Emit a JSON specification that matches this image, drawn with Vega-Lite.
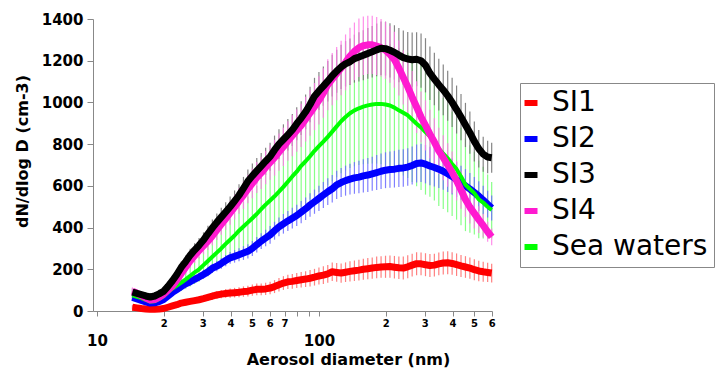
{
  "$schema": "https://vega.github.io/schema/vega-lite/v6.json",
  "autosize": {"type": "none"},
  "width": 399,
  "height": 292,
  "padding": {"left": 93, "top": 19, "right": 224, "bottom": 58},
  "background": "#ffffff",
  "config": {
    "view": {"stroke": null},
    "axisY": {"labelFont": "DejaVu Sans", "labelFontWeight": "bold", "labelFontSize": 15, "labelColor": "#000000", "labelPadding": 4, "format": "d", "tickSize": 6, "tickColor": "#888888", "domainColor": "#888888", "grid": false, "tickCount": 7, "titleFont": "DejaVu Sans", "titleFontSize": 16, "titleFontWeight": "bold", "titleColor": "#000000", "titleX": -66, "titleY": 132, "titleBaseline": "alphabetic", "titleAlign": "center", "titleAngle": -90}
  },
  "data": {"values": [
    {"d":14.45,"SI1":18,"SI1e":10,"SI2":65,"SI2e":12,"SI3":90,"SI3e":18,"SI4":95,"SI4e":18,"SW":75,"SWe":20},
    {"d":15.14,"SI1":15,"SI1e":10,"SI2":58,"SI2e":12,"SI3":84,"SI3e":18,"SI4":85,"SI4e":18,"SW":68,"SWe":20},
    {"d":15.85,"SI1":12,"SI1e":10,"SI2":51,"SI2e":12,"SI3":78,"SI3e":18,"SI4":74,"SI4e":18,"SW":62,"SWe":20},
    {"d":16.6,"SI1":10,"SI1e":10,"SI2":44,"SI2e":12,"SI3":72,"SI3e":18,"SI4":62,"SI4e":18,"SW":53,"SWe":20},
    {"d":17.38,"SI1":8,"SI1e":10,"SI2":38,"SI2e":12,"SI3":67,"SI3e":18,"SI4":53,"SI4e":18,"SW":45,"SWe":20},
    {"d":18.2,"SI1":8,"SI1e":10,"SI2":39,"SI2e":12,"SI3":72,"SI3e":19,"SI4":55,"SI4e":19,"SW":47,"SWe":20},
    {"d":19.05,"SI1":9,"SI1e":10,"SI2":45,"SI2e":12,"SI3":82,"SI3e":20,"SI4":65,"SI4e":20,"SW":58,"SWe":20},
    {"d":19.95,"SI1":12,"SI1e":10,"SI2":55,"SI2e":12,"SI3":94,"SI3e":21,"SI4":80,"SI4e":21,"SW":71,"SWe":20},
    {"d":20.89,"SI1":18,"SI1e":12,"SI2":72,"SI2e":12,"SI3":118,"SI3e":22,"SI4":100,"SI4e":22,"SW":90,"SWe":25},
    {"d":21.88,"SI1":24,"SI1e":12,"SI2":89,"SI2e":12,"SI3":145,"SI3e":24,"SI4":120,"SI4e":24,"SW":108,"SWe":30},
    {"d":22.91,"SI1":30,"SI1e":13,"SI2":103,"SI2e":12,"SI3":175,"SI3e":25,"SI4":148,"SI4e":25,"SW":122,"SWe":35},
    {"d":23.99,"SI1":38,"SI1e":13,"SI2":117,"SI2e":14,"SI3":210,"SI3e":27,"SI4":180,"SI4e":28,"SW":136,"SWe":40},
    {"d":25.12,"SI1":42,"SI1e":14,"SI2":130,"SI2e":15,"SI3":237,"SI3e":29,"SI4":210,"SI4e":30,"SW":152,"SWe":45},
    {"d":26.3,"SI1":46,"SI1e":14,"SI2":140,"SI2e":16,"SI3":267,"SI3e":31,"SI4":240,"SI4e":33,"SW":168,"SWe":50},
    {"d":27.54,"SI1":50,"SI1e":15,"SI2":152,"SI2e":17,"SI3":292,"SI3e":33,"SI4":265,"SI4e":35,"SW":185,"SWe":55},
    {"d":28.84,"SI1":54,"SI1e":15,"SI2":163,"SI2e":18,"SI3":315,"SI3e":35,"SI4":290,"SI4e":38,"SW":200,"SWe":60},
    {"d":30.2,"SI1":59,"SI1e":16,"SI2":175,"SI2e":20,"SI3":340,"SI3e":37,"SI4":312,"SI4e":40,"SW":220,"SWe":65},
    {"d":31.62,"SI1":65,"SI1e":17,"SI2":188,"SI2e":21,"SI3":370,"SI3e":39,"SI4":335,"SI4e":43,"SW":240,"SWe":72},
    {"d":33.11,"SI1":71,"SI1e":18,"SI2":205,"SI2e":22,"SI3":398,"SI3e":41,"SI4":360,"SI4e":45,"SW":260,"SWe":78},
    {"d":34.67,"SI1":77,"SI1e":19,"SI2":215,"SI2e":24,"SI3":425,"SI3e":43,"SI4":388,"SI4e":48,"SW":280,"SWe":84},
    {"d":36.31,"SI1":81,"SI1e":20,"SI2":228,"SI2e":25,"SI3":450,"SI3e":45,"SI4":415,"SI4e":50,"SW":300,"SWe":90},
    {"d":38.02,"SI1":84,"SI1e":21,"SI2":242,"SI2e":27,"SI3":475,"SI3e":47,"SI4":442,"SI4e":53,"SW":322,"SWe":95},
    {"d":39.81,"SI1":86,"SI1e":22,"SI2":255,"SI2e":28,"SI3":500,"SI3e":49,"SI4":470,"SI4e":56,"SW":342,"SWe":100},
    {"d":41.69,"SI1":88,"SI1e":23,"SI2":262,"SI2e":30,"SI3":527,"SI3e":51,"SI4":498,"SI4e":59,"SW":362,"SWe":106},
    {"d":43.65,"SI1":90,"SI1e":24,"SI2":270,"SI2e":31,"SI3":555,"SI3e":53,"SI4":528,"SI4e":62,"SW":385,"SWe":112},
    {"d":45.71,"SI1":93,"SI1e":25,"SI2":278,"SI2e":33,"SI3":588,"SI3e":55,"SI4":555,"SI4e":65,"SW":405,"SWe":118},
    {"d":47.86,"SI1":95,"SI1e":26,"SI2":286,"SI2e":34,"SI3":622,"SI3e":57,"SI4":585,"SI4e":68,"SW":425,"SWe":124},
    {"d":50.12,"SI1":100,"SI1e":27,"SI2":300,"SI2e":36,"SI3":648,"SI3e":59,"SI4":612,"SI4e":71,"SW":445,"SWe":130},
    {"d":52.48,"SI1":104,"SI1e":28,"SI2":318,"SI2e":37,"SI3":672,"SI3e":61,"SI4":640,"SI4e":74,"SW":465,"SWe":136},
    {"d":54.95,"SI1":104,"SI1e":28,"SI2":335,"SI2e":38,"SI3":695,"SI3e":63,"SI4":662,"SI4e":77,"SW":488,"SWe":142},
    {"d":57.54,"SI1":106,"SI1e":29,"SI2":350,"SI2e":40,"SI3":718,"SI3e":65,"SI4":688,"SI4e":80,"SW":510,"SWe":148},
    {"d":60.26,"SI1":110,"SI1e":30,"SI2":365,"SI2e":42,"SI3":740,"SI3e":67,"SI4":712,"SI4e":83,"SW":530,"SWe":154},
    {"d":63.1,"SI1":117,"SI1e":31,"SI2":385,"SI2e":43,"SI3":772,"SI3e":69,"SI4":735,"SI4e":86,"SW":550,"SWe":160},
    {"d":66.07,"SI1":126,"SI1e":32,"SI2":403,"SI2e":45,"SI3":800,"SI3e":71,"SI4":762,"SI4e":89,"SW":572,"SWe":166},
    {"d":69.18,"SI1":134,"SI1e":33,"SI2":418,"SI2e":47,"SI3":822,"SI3e":73,"SI4":787,"SI4e":92,"SW":595,"SWe":172},
    {"d":72.44,"SI1":140,"SI1e":34,"SI2":432,"SI2e":48,"SI3":845,"SI3e":75,"SI4":815,"SI4e":95,"SW":620,"SWe":178},
    {"d":75.86,"SI1":142,"SI1e":35,"SI2":445,"SI2e":50,"SI3":868,"SI3e":77,"SI4":840,"SI4e":98,"SW":645,"SWe":184},
    {"d":79.43,"SI1":146,"SI1e":36,"SI2":458,"SI2e":51,"SI3":898,"SI3e":79,"SI4":865,"SI4e":101,"SW":668,"SWe":190},
    {"d":83.18,"SI1":150,"SI1e":37,"SI2":474,"SI2e":53,"SI3":925,"SI3e":81,"SI4":890,"SI4e":104,"SW":696,"SWe":196},
    {"d":87.1,"SI1":153,"SI1e":38,"SI2":490,"SI2e":54,"SI3":955,"SI3e":83,"SI4":920,"SI4e":107,"SW":718,"SWe":202},
    {"d":91.2,"SI1":157,"SI1e":39,"SI2":508,"SI2e":56,"SI3":990,"SI3e":85,"SI4":950,"SI4e":110,"SW":742,"SWe":208},
    {"d":95.5,"SI1":162,"SI1e":40,"SI2":524,"SI2e":58,"SI3":1030,"SI3e":88,"SI4":980,"SI4e":113,"SW":768,"SWe":214},
    {"d":100,"SI1":168,"SI1e":41,"SI2":540,"SI2e":60,"SI3":1055,"SI3e":91,"SI4":1010,"SI4e":116,"SW":790,"SWe":220},
    {"d":104.7,"SI1":172,"SI1e":42,"SI2":556,"SI2e":62,"SI3":1078,"SI3e":94,"SI4":1045,"SI4e":119,"SW":812,"SWe":226},
    {"d":109.6,"SI1":178,"SI1e":43,"SI2":572,"SI2e":64,"SI3":1102,"SI3e":97,"SI4":1085,"SI4e":122,"SW":835,"SWe":232},
    {"d":114.8,"SI1":188,"SI1e":44,"SI2":586,"SI2e":66,"SI3":1128,"SI3e":100,"SI4":1112,"SI4e":125,"SW":860,"SWe":238},
    {"d":120.2,"SI1":185,"SI1e":45,"SI2":605,"SI2e":68,"SI3":1150,"SI3e":103,"SI4":1138,"SI4e":128,"SW":885,"SWe":244},
    {"d":125.9,"SI1":182,"SI1e":46,"SI2":616,"SI2e":70,"SI3":1170,"SI3e":106,"SI4":1165,"SI4e":131,"SW":910,"SWe":250},
    {"d":131.8,"SI1":186,"SI1e":47,"SI2":625,"SI2e":72,"SI3":1185,"SI3e":109,"SI4":1192,"SI4e":134,"SW":930,"SWe":256},
    {"d":138,"SI1":190,"SI1e":48,"SI2":632,"SI2e":74,"SI3":1195,"SI3e":112,"SI4":1222,"SI4e":136,"SW":948,"SWe":262},
    {"d":144.5,"SI1":193,"SI1e":49,"SI2":638,"SI2e":76,"SI3":1210,"SI3e":115,"SI4":1245,"SI4e":138,"SW":962,"SWe":268},
    {"d":151.4,"SI1":196,"SI1e":50,"SI2":642,"SI2e":78,"SI3":1218,"SI3e":118,"SI4":1262,"SI4e":140,"SW":972,"SWe":272},
    {"d":158.5,"SI1":200,"SI1e":50,"SI2":648,"SI2e":80,"SI3":1226,"SI3e":120,"SI4":1272,"SI4e":140,"SW":980,"SWe":276},
    {"d":166,"SI1":203,"SI1e":51,"SI2":652,"SI2e":81,"SI3":1235,"SI3e":122,"SI4":1276,"SI4e":140,"SW":986,"SWe":280},
    {"d":173.8,"SI1":206,"SI1e":51,"SI2":658,"SI2e":82,"SI3":1243,"SI3e":124,"SI4":1276,"SI4e":140,"SW":990,"SWe":283},
    {"d":182,"SI1":209,"SI1e":52,"SI2":664,"SI2e":84,"SI3":1252,"SI3e":126,"SI4":1270,"SI4e":139,"SW":993,"SWe":286},
    {"d":190.5,"SI1":211,"SI1e":52,"SI2":670,"SI2e":85,"SI3":1260,"SI3e":128,"SI4":1262,"SI4e":138,"SW":993,"SWe":289},
    {"d":199.5,"SI1":212,"SI1e":53,"SI2":675,"SI2e":86,"SI3":1258,"SI3e":129,"SI4":1250,"SI4e":137,"SW":990,"SWe":292},
    {"d":208.9,"SI1":213,"SI1e":53,"SI2":678,"SI2e":87,"SI3":1250,"SI3e":130,"SI4":1230,"SI4e":136,"SW":985,"SWe":294},
    {"d":218.8,"SI1":210,"SI1e":54,"SI2":680,"SI2e":88,"SI3":1240,"SI3e":130,"SI4":1205,"SI4e":134,"SW":975,"SWe":296},
    {"d":229.1,"SI1":207,"SI1e":54,"SI2":684,"SI2e":89,"SI3":1227,"SI3e":130,"SI4":1165,"SI4e":132,"SW":962,"SWe":298},
    {"d":239.9,"SI1":206,"SI1e":55,"SI2":686,"SI2e":90,"SI3":1215,"SI3e":130,"SI4":1120,"SI4e":130,"SW":950,"SWe":300},
    {"d":251.2,"SI1":212,"SI1e":55,"SI2":690,"SI2e":90,"SI3":1208,"SI3e":130,"SI4":1075,"SI4e":128,"SW":938,"SWe":300},
    {"d":263,"SI1":220,"SI1e":55,"SI2":698,"SI2e":91,"SI3":1205,"SI3e":130,"SI4":1025,"SI4e":126,"SW":918,"SWe":300},
    {"d":275.4,"SI1":227,"SI1e":55,"SI2":707,"SI2e":91,"SI3":1207,"SI3e":130,"SI4":978,"SI4e":124,"SW":898,"SWe":300},
    {"d":288.4,"SI1":226,"SI1e":55,"SI2":710,"SI2e":92,"SI3":1200,"SI3e":130,"SI4":930,"SI4e":122,"SW":880,"SWe":300},
    {"d":302,"SI1":222,"SI1e":55,"SI2":704,"SI2e":92,"SI3":1178,"SI3e":130,"SI4":890,"SI4e":120,"SW":858,"SWe":300},
    {"d":316.2,"SI1":218,"SI1e":55,"SI2":695,"SI2e":92,"SI3":1140,"SI3e":128,"SI4":848,"SI4e":117,"SW":838,"SWe":290},
    {"d":331.1,"SI1":220,"SI1e":55,"SI2":688,"SI2e":91,"SI3":1112,"SI3e":126,"SI4":810,"SI4e":114,"SW":812,"SWe":282},
    {"d":346.7,"SI1":226,"SI1e":55,"SI2":680,"SI2e":90,"SI3":1085,"SI3e":124,"SI4":768,"SI4e":111,"SW":778,"SWe":274},
    {"d":363.1,"SI1":230,"SI1e":55,"SI2":670,"SI2e":89,"SI3":1060,"SI3e":122,"SI4":735,"SI4e":108,"SW":755,"SWe":266},
    {"d":380.2,"SI1":231,"SI1e":55,"SI2":658,"SI2e":88,"SI3":1032,"SI3e":120,"SI4":700,"SI4e":104,"SW":732,"SWe":258},
    {"d":398.1,"SI1":228,"SI1e":54,"SI2":645,"SI2e":86,"SI3":1000,"SI3e":118,"SI4":665,"SI4e":100,"SW":705,"SWe":250},
    {"d":416.9,"SI1":222,"SI1e":54,"SI2":630,"SI2e":84,"SI3":966,"SI3e":115,"SI4":625,"SI4e":95,"SW":680,"SWe":242},
    {"d":436.5,"SI1":216,"SI1e":53,"SI2":615,"SI2e":82,"SI3":930,"SI3e":111,"SI4":580,"SI4e":90,"SW":645,"SWe":234},
    {"d":457.1,"SI1":211,"SI1e":52,"SI2":600,"SI2e":80,"SI3":892,"SI3e":106,"SI4":535,"SI4e":84,"SW":605,"SWe":222},
    {"d":478.6,"SI1":206,"SI1e":51,"SI2":585,"SI2e":77,"SI3":855,"SI3e":101,"SI4":498,"SI4e":78,"SW":585,"SWe":210},
    {"d":501.2,"SI1":198,"SI1e":50,"SI2":568,"SI2e":74,"SI3":813,"SI3e":96,"SI4":468,"SI4e":72,"SW":565,"SWe":198},
    {"d":524.8,"SI1":192,"SI1e":49,"SI2":551,"SI2e":71,"SI3":778,"SI3e":90,"SI4":438,"SI4e":64,"SW":535,"SWe":186},
    {"d":549.5,"SI1":188,"SI1e":48,"SI2":532,"SI2e":68,"SI3":752,"SI3e":84,"SI4":410,"SI4e":56,"SW":520,"SWe":172},
    {"d":575.4,"SI1":185,"SI1e":46,"SI2":512,"SI2e":64,"SI3":738,"SI3e":78,"SI4":380,"SI4e":48,"SW":500,"SWe":155},
    {"d":600,"SI1":182,"SI1e":45,"SI2":494,"SI2e":60,"SI3":735,"SI3e":72,"SI4":355,"SI4e":40,"SW":484,"SWe":135}
  ]},
  "encoding": {
    "x": {
      "field": "d", "type": "quantitative",
      "scale": {"type": "log", "domain": [9.6, 602], "nice": false},
      "title": "Aerosol diameter (nm)",
      "axis": {
        "values": [10, 20, 30, 40, 50, 60, 70, 80, 90, 100, 200, 300, 400, 500, 600],
        "labelExpr": "datum.value == 10 || datum.value == 100 ? ['', '' + datum.value] : (datum.value == 80 || datum.value == 90 ? '' : substring('' + datum.value, 0, 1))",
        "labelFontSize": {"condition": {"test": "datum.value == 10 || datum.value == 100", "value": 15}, "value": 10},
        "labelFont": "DejaVu Sans", "labelFontWeight": "bold", "labelColor": "#000000",
        "labelBaseline": "top", "labelPadding": 2, "labelLineHeight": 15,
        "labelOverlap": false, "labelFlush": false,
        "tickSize": 5, "tickColor": "#888888", "domainColor": "#888888", "grid": false,
        "titleFont": "DejaVu Sans", "titleFontSize": 16, "titleFontWeight": "bold", "titleColor": "#000000",
        "titleX": 255, "titleY": 53, "titleBaseline": "alphabetic", "titleAlign": "center"
      }
    }
  },
  "layer": [
    {"mark": {"type": "errorbar", "color": "#7aff7a", "opacity": 0.9, "thickness": 1.2},
     "encoding": {"y": {"field": "SW", "type": "quantitative", "scale": {"domain": [0, 1400], "nice": false}, "axis": {"format": "d"}, "title": "dN/dlog D (cm-3)"}, "yError": {"field": "SWe"}}},
    {"mark": {"type": "errorbar", "color": "#ff6a6a", "opacity": 0.85, "thickness": 1.2},
     "encoding": {"y": {"field": "SI1", "type": "quantitative", "scale": {"domain": [0, 1400], "nice": false}, "axis": {"format": "d"}, "title": "dN/dlog D (cm-3)"}, "yError": {"field": "SI1e"}}},
    {"mark": {"type": "errorbar", "color": "#6a6aff", "opacity": 0.85, "thickness": 1.2},
     "encoding": {"y": {"field": "SI2", "type": "quantitative", "scale": {"domain": [0, 1400], "nice": false}, "axis": {"format": "d"}, "title": "dN/dlog D (cm-3)"}, "yError": {"field": "SI2e"}}},
    {"mark": {"type": "errorbar", "color": "#707070", "opacity": 0.85, "thickness": 1.2},
     "encoding": {"y": {"field": "SI3", "type": "quantitative", "scale": {"domain": [0, 1400], "nice": false}, "axis": {"format": "d"}, "title": "dN/dlog D (cm-3)"}, "yError": {"field": "SI3e"}}},
    {"mark": {"type": "errorbar", "color": "#ff7ae6", "opacity": 0.85, "thickness": 1.2},
     "encoding": {"y": {"field": "SI4", "type": "quantitative", "scale": {"domain": [0, 1400], "nice": false}, "axis": {"format": "d"}, "title": "dN/dlog D (cm-3)"}, "yError": {"field": "SI4e"}}},
    {"mark": {"type": "line", "strokeWidth": 7, "strokeJoin": "round"},
     "encoding": {"y": {"field": "SI1", "type": "quantitative", "scale": {"domain": [0, 1400], "nice": false}, "axis": {"format": "d"}, "title": "dN/dlog D (cm-3)"},
       "color": {"datum": "SI1", "type": "nominal",
         "scale": {"domain": ["SI1", "SI2", "SI3", "SI4", "Sea waters"], "range": ["#ff0000", "#0000ff", "#000000", "#ff1ad0", "#00ff00"]},
         "legend": {"orient": "none", "legendX": 427, "legendY": 64, "title": null,
           "labelFont": "DejaVu Sans", "labelFontSize": 28, "labelColor": "#000000", "labelLimit": 400,
           "labelExpr": "datum.label + '      '",
           "symbolType": "M-1,0H1", "symbolStrokeWidth": 6, "symbolSize": 169, "symbolOffset": -9,
           "strokeColor": "#888888", "fillColor": "#ffffff", "padding": 6, "rowPadding": 8, "labelOffset": 7}}}},
    {"mark": {"type": "line", "strokeWidth": 7, "strokeJoin": "round"},
     "encoding": {"y": {"field": "SI2", "type": "quantitative", "scale": {"domain": [0, 1400], "nice": false}, "axis": {"format": "d"}, "title": "dN/dlog D (cm-3)"},
       "color": {"datum": "SI2", "type": "nominal"}}},
    {"mark": {"type": "line", "strokeWidth": 4, "strokeJoin": "round"},
     "encoding": {"y": {"field": "SW", "type": "quantitative", "scale": {"domain": [0, 1400], "nice": false}, "axis": {"format": "d"}, "title": "dN/dlog D (cm-3)"},
       "color": {"datum": "Sea waters", "type": "nominal"}}},
    {"mark": {"type": "line", "strokeWidth": 7, "strokeJoin": "round"},
     "encoding": {"y": {"field": "SI4", "type": "quantitative", "scale": {"domain": [0, 1400], "nice": false}, "axis": {"format": "d"}, "title": "dN/dlog D (cm-3)"},
       "color": {"datum": "SI4", "type": "nominal"}}},
    {"mark": {"type": "line", "strokeWidth": 7, "strokeJoin": "round"},
     "encoding": {"y": {"field": "SI3", "type": "quantitative", "scale": {"domain": [0, 1400], "nice": false}, "axis": {"format": "d"}, "title": "dN/dlog D (cm-3)"},
       "color": {"datum": "SI3", "type": "nominal"}}}
  ]
}
